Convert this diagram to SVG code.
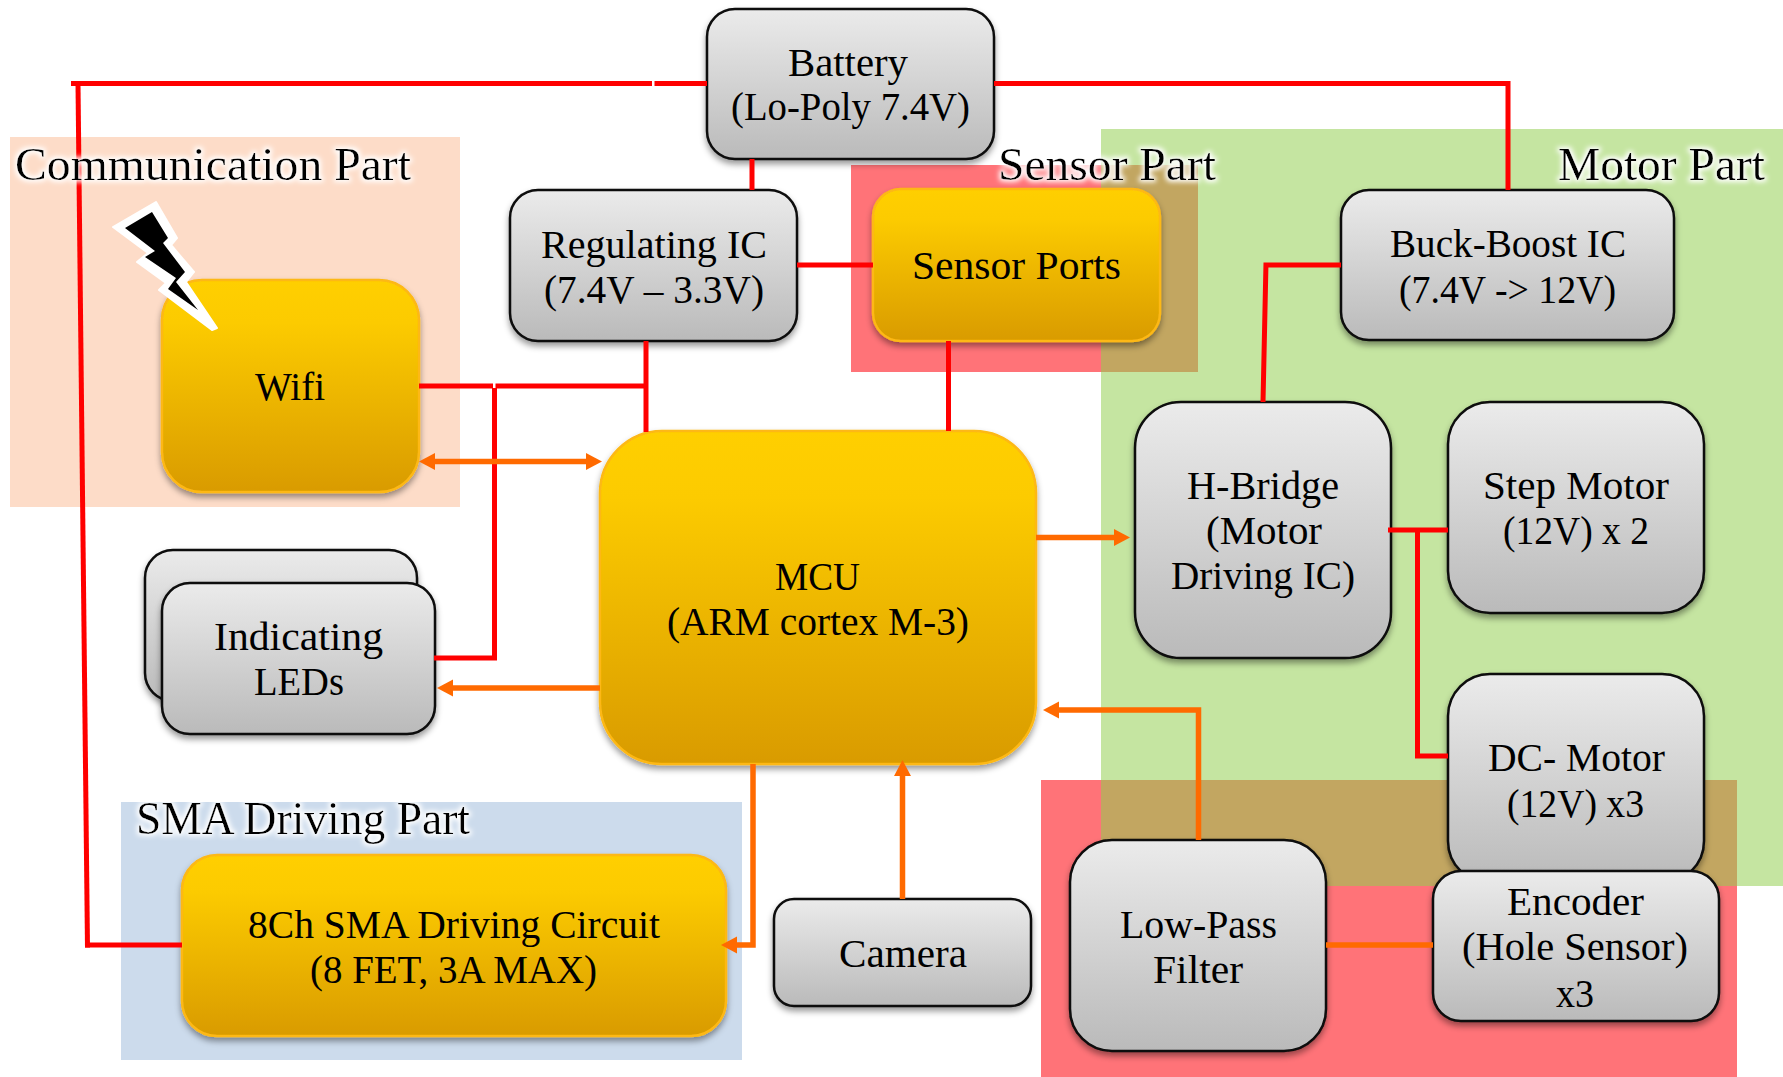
<svg xmlns="http://www.w3.org/2000/svg" width="1783" height="1077" viewBox="0 0 1783 1077">
<defs>
<style>
text{font-family:"Liberation Serif","Noto Serif",serif;font-size:40px;fill:#000}
.lab{font-size:46px}
.g{fill:url(#gray);stroke:#0a0a0a;stroke-width:2.5;filter:url(#sh)}
.y{fill:url(#gold);stroke:#fdb813;stroke-width:2.5;filter:url(#sh)}
.r{fill:none;stroke:#ff0000;stroke-width:5}
.o{fill:none;stroke:#ff6a00;stroke-width:5.5}
.a{marker-end:url(#ah)}
.b{marker-start:url(#ah);marker-end:url(#ah)}
</style>
<linearGradient id="gray" x1="0" y1="0" x2="0" y2="1"><stop offset="0" stop-color="#ebebeb"/><stop offset="1" stop-color="#bababa"/></linearGradient>
<linearGradient id="gold" x1="0" y1="0" x2="0" y2="1"><stop offset="0" stop-color="#ffcf00"/><stop offset=".2" stop-color="#fccb00"/><stop offset="1" stop-color="#d99b00"/></linearGradient>
<filter id="sh" x="-10%" y="-10%" width="120%" height="125%"><feDropShadow dx="0" dy="4" stdDeviation="3" flood-color="#000" flood-opacity=".4"/></filter>
<filter id="glow" x="-5%" y="-20%" width="110%" height="140%"><feMorphology in="SourceAlpha" operator="dilate" radius="1.5" result="d"/><feGaussianBlur in="d" stdDeviation="2.5" result="bl"/><feFlood flood-color="#fff"/><feComposite in2="bl" operator="in" result="w"/><feMerge><feMergeNode in="w"/><feMergeNode in="SourceGraphic"/></feMerge></filter>
<marker id="ah" markerUnits="userSpaceOnUse" markerWidth="17" markerHeight="18" refX="7" refY="9" orient="auto-start-reverse"><path d="M0,0.5 L16,9 L0,17.5 z" fill="#ff6a00"/></marker>
</defs>
<rect width="1783" height="1077" fill="#fff"/>
<g id="regions">
<rect x="10" y="137" width="450" height="370" fill="#fddcc8"/>
<rect x="121" y="802" width="621" height="258" fill="#ccdbec"/>
<rect x="1101" y="129" width="682" height="757" fill="#c5e5a1"/>
<rect x="851" y="165" width="347" height="207" fill="#ff7378"/>
<rect x="1041" y="780" width="696" height="297" fill="#ff7378"/>
<rect x="1101" y="165" width="97" height="207" fill="#c2a661"/>
<rect x="1101" y="780" width="636" height="106" fill="#c2a661"/>
</g>
<g id="battery"><rect class="g" x="707" y="9" width="287" height="150" rx="28"/><text x="788" y="76" textLength="120" lengthAdjust="spacingAndGlyphs">Battery</text><text x="731" y="120" textLength="239" lengthAdjust="spacingAndGlyphs">(Lo-Poly 7.4V)</text></g>
<g id="regulating"><rect class="g" x="510" y="190" width="287" height="151" rx="28"/><text x="541" y="258" textLength="226" lengthAdjust="spacingAndGlyphs">Regulating IC</text><text x="544" y="303" textLength="220" lengthAdjust="spacingAndGlyphs">(7.4V – 3.3V)</text></g>
<g id="sensor-ports"><rect class="y" x="873" y="189" width="287" height="152" rx="28"/><text x="912" y="279" textLength="209" lengthAdjust="spacingAndGlyphs">Sensor Ports</text></g>
<g id="buck-boost"><rect class="g" x="1341" y="190" width="333" height="150" rx="28"/><text x="1390" y="257" textLength="236" lengthAdjust="spacingAndGlyphs">Buck-Boost IC</text><text x="1399" y="303" textLength="217" lengthAdjust="spacingAndGlyphs">(7.4V -&gt; 12V)</text></g>
<g id="wifi"><rect class="y" x="162" y="280" width="257" height="212" rx="40"/><text x="255" y="400" textLength="70" lengthAdjust="spacingAndGlyphs">Wifi</text></g>
<g id="mcu"><rect class="y" x="600" y="431" width="436" height="333" rx="62"/><text x="775" y="590" textLength="85" lengthAdjust="spacingAndGlyphs">MCU</text><text x="667" y="635" textLength="302" lengthAdjust="spacingAndGlyphs">(ARM cortex M-3)</text></g>
<g id="leds"><rect class="g" x="145" y="550" width="272" height="151" rx="28"/><rect class="g" x="162" y="583" width="273" height="151" rx="28"/><text x="214" y="650" textLength="169" lengthAdjust="spacingAndGlyphs">Indicating</text><text x="254" y="695" textLength="90" lengthAdjust="spacingAndGlyphs">LEDs</text></g>
<g id="sma-circuit"><rect class="y" x="182" y="855" width="544" height="181" rx="35"/><text x="248" y="938" textLength="412" lengthAdjust="spacingAndGlyphs">8Ch SMA Driving Circuit</text><text x="310" y="983" textLength="287" lengthAdjust="spacingAndGlyphs">(8 FET, 3A MAX)</text></g>
<g id="camera"><rect class="g" x="774" y="899" width="257" height="107" rx="20"/><text x="839" y="967" textLength="128" lengthAdjust="spacingAndGlyphs">Camera</text></g>
<g id="h-bridge"><rect class="g" x="1135" y="402" width="256" height="256" rx="46"/><text x="1187" y="499" textLength="152" lengthAdjust="spacingAndGlyphs">H-Bridge</text><text x="1206" y="544" textLength="116" lengthAdjust="spacingAndGlyphs">(Motor</text><text x="1171" y="589" textLength="184" lengthAdjust="spacingAndGlyphs">Driving IC)</text></g>
<g id="step-motor"><rect class="g" x="1448" y="402" width="256" height="211" rx="42"/><text x="1483" y="499" textLength="186" lengthAdjust="spacingAndGlyphs">Step Motor</text><text x="1503" y="544" textLength="146" lengthAdjust="spacingAndGlyphs">(12V) x 2</text></g>
<g id="dc-motor"><rect class="g" x="1448" y="674" width="256" height="209" rx="42"/><text x="1488" y="771" textLength="177" lengthAdjust="spacingAndGlyphs">DC- Motor</text><text x="1507" y="817" textLength="137" lengthAdjust="spacingAndGlyphs">(12V) x3</text></g>
<g id="encoder"><rect class="g" x="1433" y="871" width="286" height="150" rx="28"/><text x="1507" y="915" textLength="137" lengthAdjust="spacingAndGlyphs">Encoder</text><text x="1462" y="960" textLength="226" lengthAdjust="spacingAndGlyphs">(Hole Sensor)</text><text x="1556" y="1007" textLength="38" lengthAdjust="spacingAndGlyphs">x3</text></g>
<g id="low-pass"><rect class="g" x="1070" y="840" width="256" height="211" rx="42"/><text x="1120" y="938" textLength="157" lengthAdjust="spacingAndGlyphs">Low-Pass</text><text x="1153" y="983" textLength="90" lengthAdjust="spacingAndGlyphs">Filter</text></g>
<g id="connectors">
<path class="r" d="M71,83.5H652M654.5,83.5H707"/>
<path class="r" d="M78,84L87.5,947.5"/>
<path class="r" d="M85,945H182"/>
<path class="r" d="M994,83.5H1508M1508,81V190"/>
<path class="r" d="M752,159V190"/>
<path class="r" d="M646,341V432"/>
<path class="r" d="M419,386H493M495.5,386H646"/>
<path class="r" stroke-width="4" d="M494.5,388V660.5M434,658H497"/>
<path class="r" d="M797,265H873"/>
<path class="r" d="M948.5,341V431"/>
<path class="r" d="M1341,265H1266M1266,262.5L1263,402"/>
<path class="r" d="M1388,530H1448"/>
<path class="r" d="M1417.5,530V756H1448"/>
<path class="o b" d="M428,461.5H593"/>
<path class="o a" d="M1036,537.5H1121"/>
<path class="o a" d="M1198.5,840V710H1052"/>
<path class="o" d="M1326,945H1433"/>
<path class="o a" d="M600,688H446"/>
<path class="o a" d="M753,764V945H730"/>
<path class="o a" d="M902.5,899V769"/>
</g>
<g id="lightning">
<polygon points="156,202 177,238 171,245 194,272 186,282 217,328 212,330 159,290 166,283 137,262 148,253 113,227" fill="#fff" stroke="#fff" stroke-width="2" stroke-linejoin="round"/>
<polygon points="152,212 168,238 163,243 185,272 176,282 198,310 168,289 176,278 145,257 155,251 125,228" fill="#000"/>
</g>
<g id="labels" filter="url(#glow)">
<text class="lab" x="15" y="180" textLength="396" lengthAdjust="spacingAndGlyphs">Communication Part</text>
<text class="lab" x="998" y="180" textLength="218" lengthAdjust="spacingAndGlyphs">Sensor Part</text>
<text class="lab" x="1558" y="180" textLength="207" lengthAdjust="spacingAndGlyphs">Motor Part</text>
<text class="lab" x="136" y="834" textLength="334" lengthAdjust="spacingAndGlyphs">SMA Driving Part</text>
</g>
</svg>
